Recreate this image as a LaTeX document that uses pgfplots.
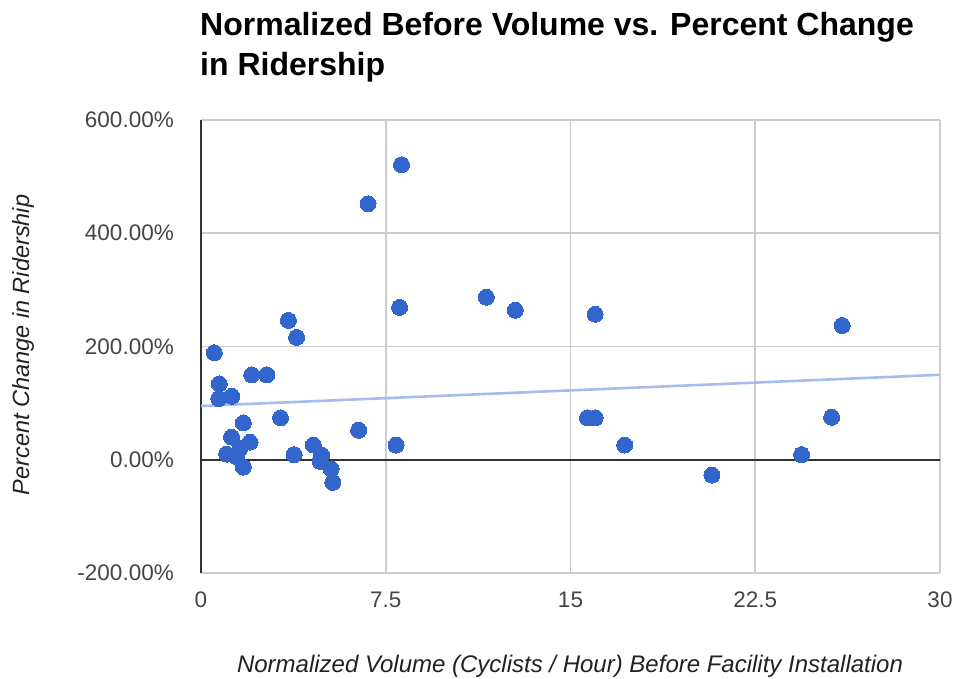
\documentclass[border=0pt]{standalone}
\usepackage{fontspec}
\setmainfont{Liberation Sans}
\usepackage{pgfplots}
\pgfplotsset{compat=1.18}
\definecolor{dot}{HTML}{3366CC}
\definecolor{trend}{HTML}{A4BCEE}
\definecolor{gridc}{HTML}{CCCCCC}
\definecolor{tickc}{HTML}{444444}
\definecolor{labc}{HTML}{222222}
\definecolor{basec}{HTML}{333333}
\begin{document}
\begin{tikzpicture}
\path (0pt,0pt) rectangle (958pt,679pt);
\node[anchor=base west, font=\fontsize{32}{40}\selectfont\bfseries, inner sep=0pt] at (200pt,643pt) {Normalized Before Volume vs. Percent Change};
\node[anchor=base west, font=\fontsize{32}{40}\selectfont\bfseries, inner sep=0pt] at (200pt,603pt) {in Ridership};
\begin{axis}[
  at={(201pt,106pt)}, anchor=south west, scale only axis,
  width=739pt, height=453pt,
  xmin=0, xmax=30, ymin=-200, ymax=600,
  xtick={0,7.5,15,22.5,30}, xticklabels={0,7.5,15,22.5,30},
  ytick={-200,0,200,400,600},
  yticklabels={-200.00\%,0.00\%,200.00\%,400.00\%,600.00\%},
  axis line style={draw=none},
  major tick length=0pt,
  grid=major,
  major grid style={gridc, line width=1.7pt},
  tick label style={font=\fontsize{22.5}{26}\selectfont, text=tickc, inner sep=0pt},
  yticklabel style={xshift=-27pt},
  xticklabel style={yshift=-19pt},
  clip=false,
]
\draw[basec, line width=1.8pt] (axis cs:0,-200) -- (axis cs:0,600);
\draw[basec, line width=1.8pt] (axis cs:0,0) -- (axis cs:30,0);
\addplot[trend, line width=2.6pt] coordinates {(0,95) (30,150)};
\addplot[only marks, color=dot, mark=*, mark size=8pt, mark options={draw=dot, fill=dot, line width=0pt}] coordinates {
(8.14,521) (6.78,452) (8.06,269) (11.58,287) (12.76,264) (16.0,257)
(26.03,237) (3.55,246) (3.88,216) (0.54,189) (2.06,150) (2.67,150)
(0.74,134) (0.72,108) (1.25,112) (3.23,74) (1.72,65) (15.69,74)
(16.0,74) (25.6,75) (6.40,52) (7.92,26) (17.2,26) (1.24,40)
(1.99,31) (4.56,26) (24.38,9) (3.78,9) (1.04,10) (1.58,20)
(1.45,5) (1.72,-13) (4.9,8) (4.84,-3) (5.28,-16) (5.35,-40)
(20.74,-27)
};
\end{axis}
\node[rotate=90, font=\fontsize{23.5}{28}\selectfont\itshape, text=labc, inner sep=0pt] at (23pt,334pt) {Percent Change in Ridership};
\node[anchor=base, font=\fontsize{24}{28}\selectfont\itshape, text=labc, inner sep=0pt] at (570pt,6pt) {Normalized Volume (Cyclists / Hour) Before Facility Installation};
\end{tikzpicture}
\end{document}
